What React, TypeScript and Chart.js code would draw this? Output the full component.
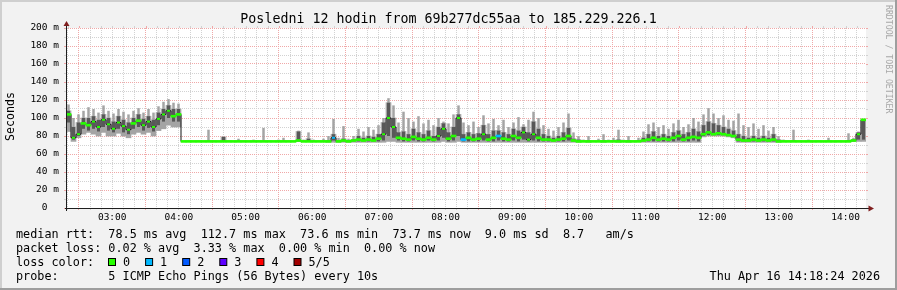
import React, { useEffect, useRef } from "react";
import { Chart, registerables } from "chart.js";

Chart.register(...registerables);

// ---- window / labels ----
const windowStartMinute = 2 * 60 + 18.4; // 02:18:24
const windowMinutes = 720;
const sampleMinutes = 4.5; // 160 samples over 12 h

const titleText = "Posledni 12 hodin from 69b277dc55aa to 185.229.226.1";
const yAxisTitle = "Seconds";
const sideText = "RRDTOOL / TOBI OETIKER";
const hourLabelHours = [3, 4, 5, 6, 7, 8, 9, 10, 11, 12, 13, 14];
const hourLabels = ["03:00", "04:00", "05:00", "06:00", "07:00", "08:00", "09:00", "10:00", "11:00", "12:00", "13:00", "14:00"];
const yTickLabels = ["0  ", "20 m", "40 m", "60 m", "80 m", "100 m", "120 m", "140 m", "160 m", "180 m", "200 m"];
const legendLines = [
  "median rtt:  78.5 ms avg  112.7 ms max  73.6 ms min  73.7 ms now  9.0 ms sd  8.7   am/s",
  "packet loss: 0.02 % avg  3.33 % max  0.00 % min  0.00 % now",
  "loss color:",
  "probe:       5 ICMP Echo Pings (56 Bytes) every 10s",
];
const lossLabels = ["0", "1", "2", "3", "4", "5/5"];
const lossColors = ["#26ff00", "#00b8ff", "#0059ff", "#5e00ff", "#ff0000", "#a10000"];
const dateText = "Thu Apr 16 14:18:24 2026";

// ---- series (ms), one value per 4.5 min sample ----
const median = [
  104, 78, 82, 94, 92, 96, 90, 98, 93, 88,
  95, 91, 87, 94, 97, 92, 96, 90, 99, 104,
  108, 102, 104, 74, 74, 74, 74, 74, 74, 74,
  74, 74, 74, 74, 74, 74, 74, 74, 74, 74,
  74, 74, 74, 74, 74, 74, 75, 74, 74, 74,
  74, 74, 74, 78, 74, 75, 74, 75, 76, 75,
  76, 75, 77, 82, 100, 90, 78, 77, 76, 79,
  77, 76, 78, 76, 80, 88, 77, 80, 100, 76,
  78, 76, 77, 82, 76, 78, 80, 77, 76, 80,
  78, 84, 76, 82, 78, 76, 76, 75, 76, 77,
  80, 75, 74, 74, 74, 74, 74, 74, 74, 74,
  74, 74, 74, 74, 74, 75, 76, 78, 76, 77,
  76, 78, 80, 76, 78, 79, 78, 82, 84, 82,
  83, 82, 81, 80, 76, 75, 75, 76, 75, 76,
  75, 76, 74, 74, 74, 74, 74, 74, 74, 74,
  74, 74, 74, 74, 74, 74, 74, 75, 82, 98,
];
const smokeMax = [
  115, 100, 104, 108, 112, 110, 106, 114, 108, 105,
  110, 107, 104, 108, 111, 106, 110, 106, 113, 118,
  121, 117, 116, 74, 75, 74, 75, 74, 87, 75,
  74, 79, 75, 74, 77, 75, 74, 76, 75, 89,
  75, 74, 76, 78, 75, 74, 86, 76, 84, 76,
  75, 77, 80, 99, 78, 91, 77, 80, 88, 85,
  90, 87, 92, 100, 122, 114, 95, 107, 100, 96,
  102, 94, 98, 92, 100, 96, 94, 104, 114, 95,
  92, 96, 90, 103, 94, 99, 92, 98, 90, 95,
  101, 93, 98, 107, 100, 92, 88, 86, 90, 95,
  105, 84, 80, 76, 80, 75, 77, 82, 76, 78,
  87, 76, 80, 75, 78, 85, 93, 95, 90, 92,
  88, 94, 98, 90, 93, 100, 96, 104, 111, 105,
  100, 103, 98, 97, 105, 92, 90, 94, 88, 92,
  86, 90, 80, 76, 75, 87, 75, 74, 76, 74,
  75, 74, 78, 74, 75, 74, 83, 78, 85, 99,
];
const innerMax = [
  108, 90, 95, 100, 100, 102, 98, 104, 100, 96,
  102, 98, 95, 100, 104, 99, 102, 98, 106, 110,
  114, 110, 110, 74, 74, 74, 74, 74, 74, 74,
  74, 79, 74, 74, 74, 74, 74, 74, 74, 74,
  74, 74, 74, 74, 74, 74, 85, 74, 77, 74,
  74, 74, 75, 82, 75, 77, 75, 76, 80, 78,
  80, 79, 82, 95, 117, 100, 84, 85, 82, 88,
  84, 82, 86, 80, 90, 94, 84, 90, 104, 82,
  84, 82, 83, 92, 82, 86, 86, 84, 82, 88,
  86, 90, 84, 96, 88, 82, 80, 78, 80, 84,
  89, 77, 76, 74, 75, 74, 74, 75, 74, 75,
  76, 74, 75, 74, 75, 78, 82, 85, 80, 82,
  80, 84, 86, 82, 84, 88, 85, 92, 96, 94,
  92, 90, 88, 86, 82, 80, 78, 80, 78, 80,
  78, 82, 76, 74, 74, 75, 74, 74, 74, 74,
  74, 74, 74, 74, 74, 74, 75, 76, 84, 98,
];
const innerMin = [
  95, 76, 80, 88, 86, 88, 85, 90, 86, 84,
  88, 84, 82, 88, 90, 86, 89, 85, 92, 96,
  100, 96, 96, 74, 74, 74, 74, 74, 74, 74,
  74, 74, 74, 74, 74, 74, 74, 74, 74, 74,
  74, 74, 74, 74, 74, 74, 74, 74, 74, 74,
  74, 74, 74, 75, 74, 74, 74, 74, 74, 74,
  74, 74, 74, 75, 80, 78, 75, 74, 74, 75,
  74, 74, 75, 74, 75, 78, 74, 75, 80, 74,
  74, 74, 74, 75, 74, 74, 75, 74, 74, 75,
  74, 76, 74, 75, 74, 74, 74, 74, 74, 74,
  75, 74, 74, 74, 74, 74, 74, 74, 74, 74,
  74, 74, 74, 74, 74, 74, 74, 74, 74, 74,
  74, 74, 75, 74, 74, 75, 74, 80, 81, 81,
  81, 81, 80, 79, 74, 74, 74, 74, 74, 74,
  74, 74, 74, 74, 74, 74, 74, 74, 74, 74,
  74, 74, 74, 74, 74, 74, 74, 74, 76, 76,
];
const smokeMin = [
  85, 74, 78, 82, 84, 82, 80, 84, 80, 80,
  83, 80, 78, 82, 84, 82, 84, 80, 86, 88,
  92, 90, 90, 74, 74, 74, 74, 74, 74, 74,
  74, 74, 74, 74, 74, 74, 74, 74, 74, 74,
  74, 74, 74, 74, 74, 74, 74, 74, 74, 74,
  74, 74, 73, 73, 73, 73, 73, 73, 73, 73,
  73, 73, 73, 73, 74, 74, 73, 73, 73, 73,
  73, 73, 73, 73, 73, 74, 73, 73, 74, 73,
  73, 73, 73, 73, 73, 73, 73, 73, 73, 73,
  73, 73, 73, 73, 73, 73, 73, 73, 73, 73,
  73, 73, 73, 74, 73, 74, 74, 73, 74, 74,
  73, 74, 73, 74, 74, 73, 73, 73, 73, 73,
  73, 73, 73, 73, 73, 73, 73, 79, 80, 80,
  80, 80, 79, 78, 73, 73, 73, 73, 73, 73,
  73, 73, 73, 74, 74, 74, 74, 74, 74, 74,
  74, 74, 74, 74, 74, 74, 74, 74, 74, 74,
];
// samples where 1 of 5 pings was lost
const lossOneSamples = [53, 79, 86];

// ---- styling ----
const BG = "#f2f2f2";
const GRID = "#d2d2d2";
const MGRID = "#f0a8a8";
const AXIS = "#1f1f1f";
const ARROW = "#801f1f";
const MONO = '"DejaVu Sans Mono", monospace';

const minuteOfDay = (v: number) => Math.round(v + windowStartMinute);
const xIsMajor = (v: number) => minuteOfDay(v) % 60 === 30;
const yIsMajor = (v: number) => Math.round(v) % 20 === 0;

const decorPlugin = {
  id: "decor",
  beforeDraw(chart: any) {
    const { ctx, chartArea: a, width, height } = chart;
    ctx.save();
    ctx.fillStyle = BG;
    ctx.fillRect(0, 0, width, height);
    ctx.fillStyle = "#cfcfcf";
    ctx.fillRect(0, 0, width, 2);
    ctx.fillRect(0, 0, 2, height);
    ctx.fillStyle = "#9e9e9e";
    ctx.fillRect(0, height - 2, width, 2);
    ctx.fillRect(width - 2, 0, 2, height);
    ctx.fillStyle = "#ffffff";
    ctx.fillRect(a.left, a.top, a.right - a.left, a.bottom - a.top);
    ctx.restore();
  },
  afterDraw(chart: any) {
    const { ctx, chartArea: a, scales, width } = chart;
    const xs = scales.x;
    const ys = scales.y;
    ctx.save();
    ctx.lineWidth = 1;
    ys.ticks.forEach((t: any) => {
      const y = Math.round(ys.getPixelForValue(t.value)) + 0.5;
      ctx.strokeStyle = yIsMajor(t.value) ? MGRID : GRID;
      ctx.beginPath();
      ctx.moveTo(a.right, y);
      ctx.lineTo(a.right + 2, y);
      ctx.stroke();
    });
    xs.ticks.forEach((t: any) => {
      const x = Math.round(xs.getPixelForValue(t.value)) + 0.5;
      ctx.strokeStyle = xIsMajor(t.value) ? MGRID : GRID;
      ctx.beginPath();
      ctx.moveTo(x, a.top - 2);
      ctx.lineTo(x, a.top);
      ctx.stroke();
    });
    // axes
    ctx.strokeStyle = AXIS;
    ctx.beginPath();
    ctx.moveTo(a.left - 1, a.bottom + 0.5);
    ctx.lineTo(a.right + 3, a.bottom + 0.5);
    ctx.stroke();
    ctx.beginPath();
    ctx.moveTo(a.left + 0.5, a.bottom + 3);
    ctx.lineTo(a.left + 0.5, a.top - 2);
    ctx.stroke();
    ctx.fillStyle = ARROW;
    ctx.beginPath();
    ctx.moveTo(a.right + 2.5, a.bottom + 0.5 - 3);
    ctx.lineTo(a.right + 2.5, a.bottom + 0.5 + 3);
    ctx.lineTo(a.right + 8, a.bottom + 0.5);
    ctx.closePath();
    ctx.fill();
    ctx.beginPath();
    ctx.moveTo(a.left + 0.5 - 3, a.top - 2);
    ctx.lineTo(a.left + 0.5 + 3, a.top - 2);
    ctx.lineTo(a.left + 0.5, a.top - 7);
    ctx.closePath();
    ctx.fill();

    // title
    ctx.fillStyle = "#000";
    ctx.textBaseline = "alphabetic";
    ctx.textAlign = "center";
    ctx.font = `13.3px ${MONO}`;
    ctx.fillText(titleText, 448.5, 23);

    // legend
    ctx.font = `11.8px ${MONO}`;
    ctx.textAlign = "left";
    legendLines.forEach((line, k) => ctx.fillText(line, 16, 238 + 14 * k));
    lossLabels.forEach((lab, k) => {
      const bx = 108 + k * 37.1;
      ctx.fillStyle = lossColors[k];
      ctx.fillRect(bx + 0.5, 258.5, 7, 7);
      ctx.strokeStyle = "#000";
      ctx.lineWidth = 1;
      ctx.strokeRect(bx + 0.5, 258.5, 7, 7);
      ctx.fillStyle = "#000";
      ctx.fillText(lab, bx + 15, 266);
    });
    ctx.textAlign = "right";
    ctx.fillText(dateText, 880, 280);

    ctx.save();
    ctx.translate(10.5, 116.5);
    ctx.rotate(-Math.PI / 2);
    ctx.textAlign = "center";
    ctx.textBaseline = "middle";
    ctx.font = `11.6px ${MONO}`;
    ctx.fillText(yAxisTitle, 0, 0);
    ctx.restore();

    ctx.save();
    ctx.translate(width - 8.5, 5);
    ctx.rotate(Math.PI / 2);
    ctx.textAlign = "left";
    ctx.textBaseline = "middle";
    ctx.font = `8.2px ${MONO}`;
    ctx.fillStyle = "#a8a8a8";
    ctx.fillText(sideText, 0, 0);
    ctx.restore();

    ctx.restore();
  },
};

export default function App() {
  const ref = useRef<HTMLCanvasElement>(null);

  useEffect(() => {
    document.body.style.margin = "0";
    const canvas = ref.current;
    if (!canvas) return;
    const xAt = (i: number) => (i + 0.5) * sampleMinutes;
    const band = (hi: number[], lo: number[]) => hi.map((v, i) => ({ x: xAt(i), y: [lo[i], v] }));
    // jumpy samples: median drawn as short dashes; steady samples: continuous line
    const jumpy = (i: number) => {
      const p = i > 0 ? median[i - 1] : median[i];
      const n = i < median.length - 1 ? median[i + 1] : median[i];
      return Math.abs(median[i] - p) > 3 && Math.abs(median[i] - n) > 3;
    };
    const dash = (sel: (i: number) => boolean) =>
      median.map((v, i) => ({ x: xAt(i), y: sel(i) ? [v - 1.1, v + 1.1] : null }));

    const xTicks: number[] = [];
    for (let m = Math.ceil(windowStartMinute / 10) * 10; m < windowStartMinute + windowMinutes; m += 10) {
      xTicks.push(m - windowStartMinute);
    }
    const yTicks: number[] = [];
    for (let v = 0; v <= 200; v += 10) yTicks.push(v);

    const barCommon = {
      type: "bar" as const,
      grouped: false,
      barPercentage: 1,
      categoryPercentage: 1,
      borderWidth: 0,
    };
    const medColor = (c: any) => (lossOneSamples.includes(c.dataIndex) ? lossColors[1] : lossColors[0]);

    const chart = new Chart(canvas, {
      type: "bar",
      data: {
        datasets: [
          { ...barCommon, data: band(innerMax, smokeMin) as any, backgroundColor: "#a4a4a4", order: 6 },
          { ...barCommon, barPercentage: 0.5, data: band(smokeMax, innerMax) as any, backgroundColor: "#a4a4a4", order: 5 },
          { ...barCommon, barPercentage: 0.6, data: band(innerMax, innerMin) as any, backgroundColor: "#585858", order: 4 },
          {
            type: "line" as const,
            data: median.map((v, i) => ({ x: xAt(i), y: v })) as any,
            borderColor: "#151515",
            borderWidth: 1,
            stepped: "middle",
            pointRadius: 0,
            pointHoverRadius: 0,
            fill: false,
            order: 3,
          },
          { ...barCommon, data: dash((i) => !jumpy(i)) as any, backgroundColor: medColor, order: 2 },
          { ...barCommon, barPercentage: 0.6, data: dash(jumpy) as any, backgroundColor: medColor, order: 1 },
        ] as any,
      },
      options: {
        animation: false,
        responsive: false,
        devicePixelRatio: 1,
        events: [],
        layout: { padding: { top: 28, right: 31, bottom: 0, left: 0 } },
        plugins: { legend: { display: false }, tooltip: { enabled: false }, title: { display: false } },
        scales: {
          x: {
            type: "linear",
            min: 0,
            max: windowMinutes,
            offset: false,
            grid: {
              offset: false,
              color: (c: any) => (xIsMajor(c.tick.value) ? MGRID : GRID),
              lineWidth: 1,
              drawTicks: true,
              tickLength: 2,
              tickColor: (c: any) => (xIsMajor(c.tick.value) ? MGRID : GRID),
            },
            border: { display: false, dash: [1, 1] },
            ticks: {
              autoSkip: false,
              maxRotation: 0,
              minRotation: 0,
              padding: 2,
              color: "#000",
              font: { family: MONO, size: 9.5 },
              callback: (value: any) => {
                const m = minuteOfDay(Number(value));
                if (m % 60 !== 0) return "";
                const k = hourLabelHours.indexOf(m / 60);
                return k >= 0 ? hourLabels[k] : "";
              },
            },
            afterBuildTicks: (s: any) => {
              s.ticks = xTicks.map((v) => ({ value: v }));
            },
            afterFit: (s: any) => {
              s.height = 82;
            },
          },
          y: {
            type: "linear",
            min: 0,
            max: 200,
            grid: {
              color: (c: any) => (yIsMajor(c.tick.value) ? MGRID : GRID),
              lineWidth: 1,
              drawTicks: true,
              tickLength: 2,
              tickColor: (c: any) => (yIsMajor(c.tick.value) ? MGRID : GRID),
            },
            border: { display: false, dash: [1, 1] },
            ticks: {
              autoSkip: false,
              padding: 5,
              color: "#000",
              font: { family: MONO, size: 9.5 },
              callback: (value: any) => {
                const v = Math.round(Number(value));
                return v % 20 === 0 ? yTickLabels[v / 20] : "";
              },
            },
            afterBuildTicks: (s: any) => {
              s.ticks = yTicks.map((v) => ({ value: v }));
            },
            afterFit: (s: any) => {
              s.width = 66;
            },
          },
        },
      } as any,
      plugins: [decorPlugin],
    });
    return () => chart.destroy();
  }, []);

  return <canvas ref={ref} width={897} height={290} style={{ display: "block" }} />;
}
